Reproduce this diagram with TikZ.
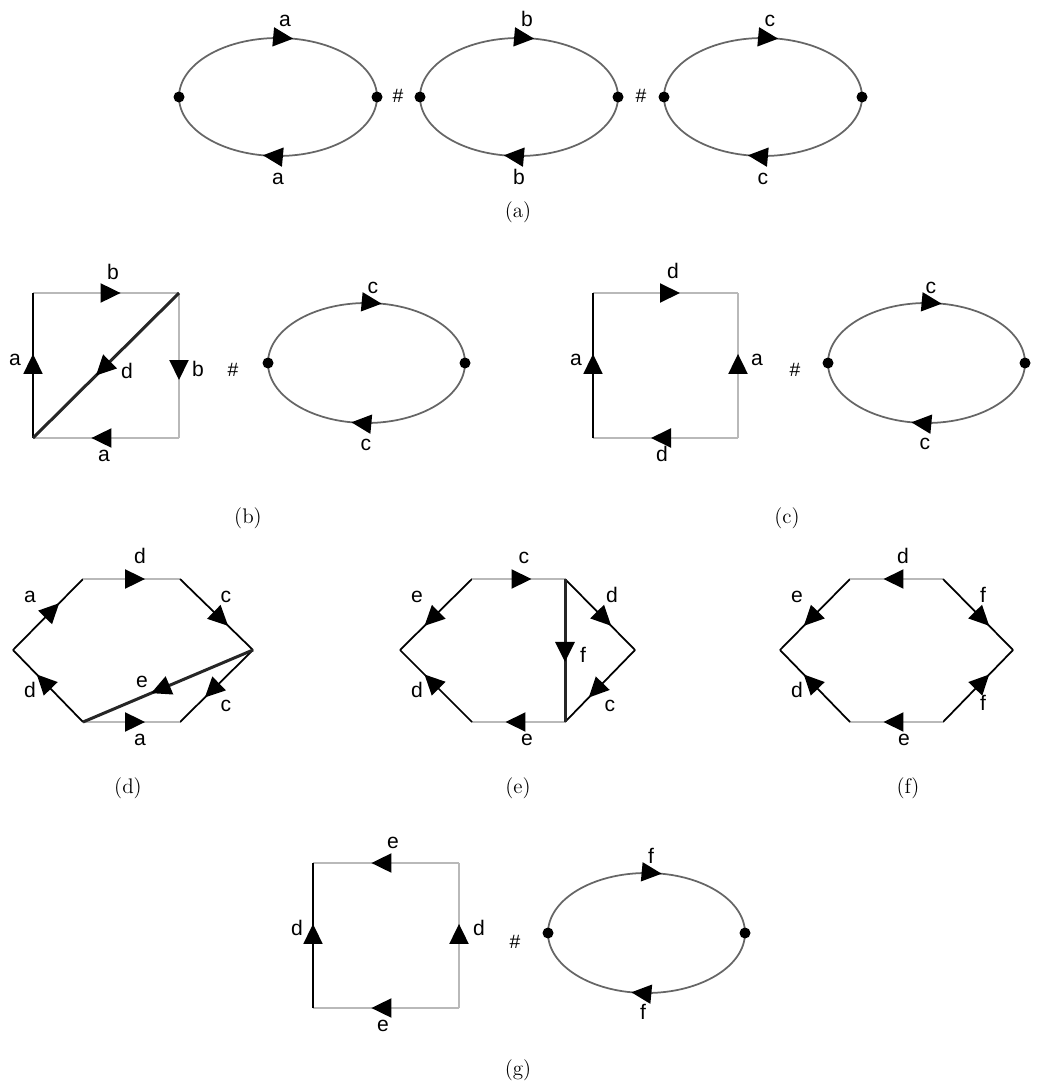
\documentclass[tikz,border=0pt]{standalone}
\usepackage{fontspec}
\newfontfamily\lblfont{Liberation Sans}
\usetikzlibrary{arrows.meta,decorations.markings}

\begin{document}
\begin{tikzpicture}[x=0.2mm, y=0.2mm,
  lbl/.style={font=\lblfont\fontsize{12}{12}\selectfont, inner sep=0pt, anchor=base},
  hashsign/.style={font=\lblfont\fontsize{11}{11}\selectfont, inner sep=0pt},
  capt/.style={font=\fontsize{12}{14}\selectfont, inner sep=0pt},
  dot/.style={circle, fill=black, inner sep=0pt, minimum size=2.2mm},
  blk/.style={line width=0.35mm, black},
  gry/.style={line width=0.4mm, gray!55},
  ring/.style={line width=0.35mm, black!60},
  thk/.style={line width=0.6mm, black!85},
  marrow/.style={postaction={decorate, decoration={markings,
      mark=at position #1 with {\arrow[black]{Triangle[length=4mm,width=3.8mm]}}}}},
  marrow/.default=0.6]

\useasboundingbox (0,0) rectangle (1037,-1091);

% (a) three circles
\coordinate (a1l) at (179,-97);
\coordinate (a1r) at (377,-97);
\coordinate (a2l) at (420,-97);
\coordinate (a2r) at (618,-97);
\coordinate (a3l) at (664,-97);
\coordinate (a3r) at (862,-97);
\draw[ring, marrow=0.56] (a1l) arc[start angle=180, end angle=0, x radius=99, y radius=59];
\draw[ring, marrow=0.56] (a1r) arc[start angle=0, end angle=-180, x radius=99, y radius=59];
\draw[ring, marrow=0.56] (a2l) arc[start angle=180, end angle=0, x radius=99, y radius=59];
\draw[ring, marrow=0.56] (a2r) arc[start angle=0, end angle=-180, x radius=99, y radius=59];
\draw[ring, marrow=0.56] (a3l) arc[start angle=180, end angle=0, x radius=99, y radius=59];
\draw[ring, marrow=0.56] (a3r) arc[start angle=0, end angle=-180, x radius=99, y radius=59];
\node[dot] (a1ldot) at (a1l) {};
\node[dot] (a1rdot) at (a1r) {};
\node[dot] (a2ldot) at (a2l) {};
\node[dot] (a2rdot) at (a2r) {};
\node[dot] (a3ldot) at (a3l) {};
\node[dot] (a3rdot) at (a3r) {};
\node[lbl] (la1) at (285,-26) {a};
\node[lbl] (la2) at (278,-184) {a};
\node[lbl] (la3) at (527,-26) {b};
\node[lbl] (la4) at (519,-184) {b};
\node[lbl] (la5) at (770,-26) {c};
\node[lbl] (la6) at (763,-184) {c};
\node[hashsign] (ha1) at (398,-96) {\#};
\node[hashsign] (ha2) at (641,-96) {\#};
\node[capt] (capa) at (518,-212) {(a)};

% (b) square with diagonal
\coordinate (bBL) at (33,-438);
\coordinate (bTL) at (33,-293);
\coordinate (bTR) at (179,-293);
\coordinate (bBR) at (179,-438);
\draw[gry, marrow] (bTL) -- (bTR);
\draw[gry, marrow] (bTR) -- (bBR);
\draw[gry, marrow] (bBR) -- (bBL);
\draw[blk, marrow=0.58] (bBL) -- (bTL);
\draw[thk, marrow=0.57] (bTR) -- (bBL);
\node[lbl] (lb1) at (113,-279) {b};
\node[lbl] (lb2) at (15,-365) {a};
\node[lbl] (lb3) at (198,-376) {b};
\node[lbl] (lb4) at (127,-378) {d};
\node[lbl] (lb5) at (104,-461) {a};
\node[hashsign] (hb) at (233,-370) {\#};
\coordinate (bl) at (268,-363);
\coordinate (br) at (465,-363);
\draw[ring, marrow=0.56] (bl) arc[start angle=180, end angle=0, x radius=98.5, y radius=60];
\draw[ring, marrow=0.56] (br) arc[start angle=0, end angle=-180, x radius=98.5, y radius=60];
\node[dot] (bldot) at (bl) {};
\node[dot] (brdot) at (br) {};
\node[lbl] (lb6) at (373,-293) {c};
\node[lbl] (lb7) at (366,-450) {c};
\node[capt] (capb) at (248,-518) {(b)};

% (c) square
\coordinate (cBL) at (593,-438);
\coordinate (cTL) at (593,-293);
\coordinate (cTR) at (738,-293);
\coordinate (cBR) at (738,-438);
\draw[gry, marrow] (cTL) -- (cTR);
\draw[gry, marrow=0.58] (cBR) -- (cTR);
\draw[gry, marrow] (cBR) -- (cBL);
\draw[blk, marrow=0.58] (cBL) -- (cTL);
\node[lbl] (lc1) at (673,-278) {d};
\node[lbl] (lc2) at (576,-365) {a};
\node[lbl] (lc3) at (757,-365) {a};
\node[lbl] (lc4) at (662,-461) {d};
\node[hashsign] (hc) at (795,-370) {\#};
\coordinate (cl) at (828,-363);
\coordinate (cr) at (1025,-363);
\draw[ring, marrow=0.56] (cl) arc[start angle=180, end angle=0, x radius=98.5, y radius=60];
\draw[ring, marrow=0.56] (cr) arc[start angle=0, end angle=-180, x radius=98.5, y radius=60];
\node[dot] (cldot) at (cl) {};
\node[dot] (crdot) at (cr) {};
\node[lbl] (lc5) at (931,-293) {c};
\node[lbl] (lc6) at (925,-449) {c};
\node[capt] (capc) at (787,-518) {(c)};

% (d) hexagon with diagonal
\coordinate (dL) at (13,-650);
\coordinate (dTL) at (83,-579);
\coordinate (dTR) at (180,-579);
\coordinate (dR) at (253,-650);
\coordinate (dBR) at (180,-722);
\coordinate (dBL) at (83,-722);
\draw[blk, marrow=0.66] (dL) -- (dTL);
\draw[gry, marrow=0.64] (dTL) -- (dTR);
\draw[blk, marrow=0.66] (dTR) -- (dR);
\draw[blk, marrow=0.66] (dR) -- (dBR);
\draw[gry, marrow=0.64] (dBL) -- (dBR);
\draw[blk, marrow=0.66] (dBL) -- (dL);
\draw[thk, marrow=0.6] (dR) -- (dBL);
\node[lbl] (ld1) at (140,-563) {d};
\node[lbl] (ld2) at (30,-602) {a};
\node[lbl] (ld3) at (226,-602) {c};
\node[lbl] (ld4) at (142,-687) {e};
\node[lbl] (ld5) at (30,-697) {d};
\node[lbl] (ld6) at (226,-711) {c};
\node[lbl] (ld7) at (140,-745) {a};
\node[capt] (capd) at (128,-788) {(d)};

% (e) hexagon with vertical cut
\coordinate (eL) at (400,-650);
\coordinate (eTL) at (472,-579);
\coordinate (eTR) at (565,-579);
\coordinate (eR) at (635,-650);
\coordinate (eBR) at (565,-722);
\coordinate (eBL) at (472,-722);
\draw[blk, marrow=0.66] (eTL) -- (eL);
\draw[gry, marrow=0.64] (eTL) -- (eTR);
\draw[blk, marrow=0.66] (eTR) -- (eR);
\draw[blk, marrow=0.66] (eR) -- (eBR);
\draw[gry, marrow=0.64] (eBR) -- (eBL);
\draw[blk, marrow=0.66] (eBL) -- (eL);
\draw[thk, marrow=0.58] (eTR) -- (eBR);
\node[lbl] (le1) at (524,-563) {c};
\node[lbl] (le2) at (417,-602) {e};
\node[lbl] (le3) at (612,-602) {d};
\node[lbl] (le4) at (583,-662) {f};
\node[lbl] (le5) at (417,-697) {d};
\node[lbl] (le6) at (610,-711) {c};
\node[lbl] (le7) at (527,-745) {e};
\node[capt] (cape) at (518,-788) {(e)};

% (f) hexagon
\coordinate (fL) at (780,-650);
\coordinate (fTL) at (850,-579);
\coordinate (fTR) at (943,-579);
\coordinate (fR) at (1013,-650);
\coordinate (fBR) at (943,-722);
\coordinate (fBL) at (850,-722);
\draw[blk, marrow=0.66] (fTL) -- (fL);
\draw[gry, marrow=0.64] (fTR) -- (fTL);
\draw[blk, marrow=0.66] (fTR) -- (fR);
\draw[blk, marrow=0.66] (fBR) -- (fR);
\draw[gry, marrow=0.64] (fBR) -- (fBL);
\draw[blk, marrow=0.66] (fBL) -- (fL);
\node[lbl] (lf1) at (903,-563) {d};
\node[lbl] (lf2) at (797,-602) {e};
\node[lbl] (lf3) at (983,-602) {f};
\node[lbl] (lf4) at (797,-697) {d};
\node[lbl] (lf5) at (983,-710) {f};
\node[lbl] (lf6) at (904,-745) {e};
\node[capt] (capf) at (908,-788) {(f)};

% (g) square and circle
\coordinate (gBL) at (313,-1008);
\coordinate (gTL) at (313,-863);
\coordinate (gTR) at (459,-863);
\coordinate (gBR) at (459,-1008);
\draw[gry, marrow] (gTR) -- (gTL);
\draw[gry, marrow=0.58] (gBR) -- (gTR);
\draw[gry, marrow] (gBR) -- (gBL);
\draw[blk, marrow=0.58] (gBL) -- (gTL);
\node[lbl] (lg1) at (393,-848) {e};
\node[lbl] (lg2) at (297,-935) {d};
\node[lbl] (lg3) at (479,-935) {d};
\node[lbl] (lg4) at (383,-1031) {e};
\node[hashsign] (hg) at (515,-942) {\#};
\coordinate (gl) at (548,-933);
\coordinate (gr) at (745,-933);
\draw[ring, marrow=0.56] (gl) arc[start angle=180, end angle=0, x radius=98.5, y radius=60];
\draw[ring, marrow=0.56] (gr) arc[start angle=0, end angle=-180, x radius=98.5, y radius=60];
\node[dot] (gldot) at (gl) {};
\node[dot] (grdot) at (gr) {};
\node[lbl] (lg5) at (651,-863) {f};
\node[lbl] (lg6) at (643,-1019) {f};
\node[capt] (capg) at (518,-1070) {(g)};

\end{tikzpicture}
\end{document}
